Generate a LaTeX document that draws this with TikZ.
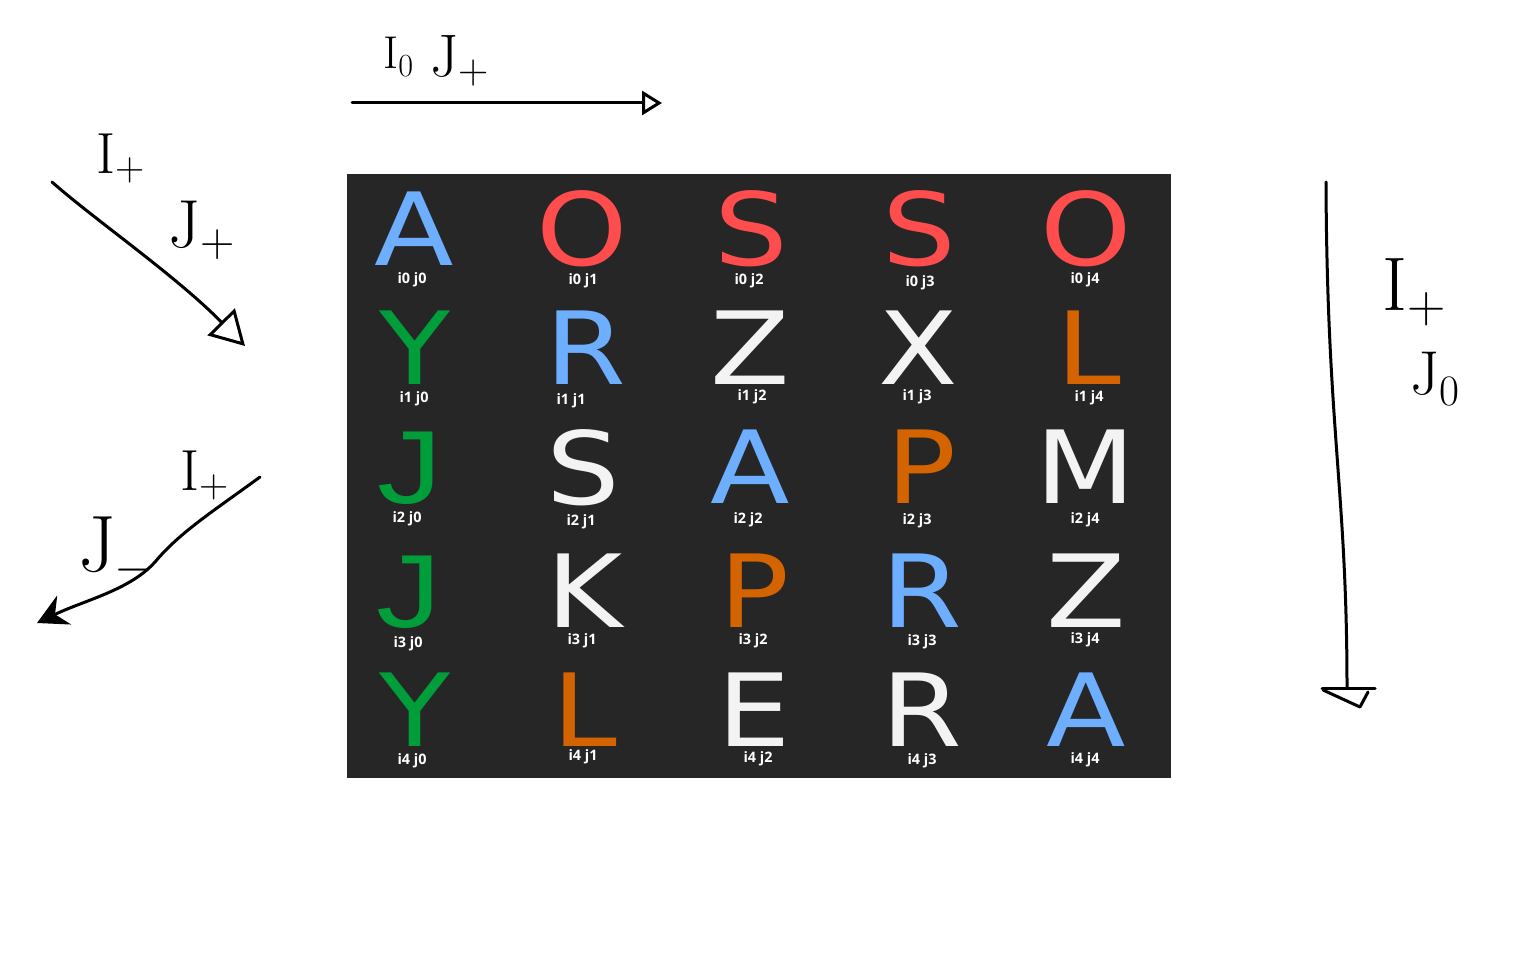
\documentclass[tikz,border=0pt]{standalone}
\usepackage{fontspec}
\usetikzlibrary{arrows.meta}
\newfontfamily\bigletterfont{DejaVu Sans}[FakeStretch=1.15]
\newfontfamily\bigjfont{Liberation Sans}[FakeStretch=1.25]
\newfontfamily\celllabelfont{Open Sans}[BoldFont={Open Sans Bold}]
\definecolor{bgdark}{HTML}{262626}
\definecolor{lblue}{HTML}{6DAEFF}
\definecolor{lred}{HTML}{FF4D4D}
\definecolor{lwhite}{HTML}{F3F3F3}
\definecolor{lorange}{HTML}{D46400}
\definecolor{lgreen}{HTML}{009E3A}
\tikzset{
  bigletter/.style={anchor=base, inner sep=0pt, font=\bigletterfont\fontsize{50.5}{60}\selectfont},
  bigj/.style={anchor=base, inner sep=0pt, font=\bigjfont\fontsize{52}{60}\selectfont},
  celllabel/.style={anchor=base, inner sep=0pt, text=white, font=\celllabelfont\bfseries\fontsize{7.2}{8}\selectfont},
  hand/.style={line width=1.5pt, black, line cap=round, line join=round},
  handlabel/.style={anchor=base west, inner sep=0pt}
}
\begin{document}
\begin{tikzpicture}[x=0.5pt,y=-0.5pt]
\useasboundingbox[fill=white] (0,0) rectangle (1536,963);
\fill[bgdark] (347,174) rectangle (1171,778);
% row 0
\node[bigletter,text=lblue]   (l00) at (414,265) {A};
\node[bigletter,text=lred]    (l01) at (582,265) {O};
\node[bigletter,text=lred]    (l02) at (751,265) {S};
\node[bigletter,text=lred]    (l03) at (919,265) {S};
\node[bigletter,text=lred]    (l04) at (1086,265) {O};
% row 1
\node[bigletter,text=lgreen]  (l10) at (415,384) {Y};
\node[bigletter,text=lblue]   (l11) at (586,384) {R};
\node[bigletter,text=lwhite]  (l12) at (750,384) {Z};
\node[bigletter,text=lwhite]  (l13) at (918,384) {X};
\node[bigletter,text=lorange] (l14) at (1089,384) {L};
% row 2
\node[bigj,text=lgreen]       (l20) at (410,503) {J};
\node[bigletter,text=lwhite]  (l21) at (583,504) {S};
\node[bigletter,text=lblue]   (l22) at (750,503) {A};
\node[bigletter,text=lorange] (l23) at (922,503) {P};
\node[bigletter,text=lwhite]  (l24) at (1086,503) {M};
% row 3
\node[bigj,text=lgreen]       (l30) at (409,627) {J};
\node[bigletter,text=lwhite]  (l31) at (585,627) {K};
\node[bigletter,text=lorange] (l32) at (755,627) {P};
\node[bigletter,text=lblue]   (l33) at (922,627) {R};
\node[bigletter,text=lwhite]  (l34) at (1086,627) {Z};
% row 4
\node[bigletter,text=lgreen]  (l40) at (415,746) {Y};
\node[bigletter,text=lorange] (l41) at (585,746) {L};
\node[bigletter,text=lwhite]  (l42) at (754,746) {E};
\node[bigletter,text=lwhite]  (l43) at (922,746) {R};
\node[bigletter,text=lblue]   (l44) at (1086,746) {A};
% labels
\node[celllabel] (t00) at (412,283) {i0 j0};
\node[celllabel] (t01) at (583,284) {i0 j1};
\node[celllabel] (t02) at (749,284) {i0 j2};
\node[celllabel] (t03) at (920,286) {i0 j3};
\node[celllabel] (t04) at (1085,283) {i0 j4};
\node[celllabel] (t10) at (414,402) {i1 j0};
\node[celllabel] (t11) at (571,404) {i1 j1};
\node[celllabel] (t12) at (752,400) {i1 j2};
\node[celllabel] (t13) at (917,400) {i1 j3};
\node[celllabel] (t14) at (1089,401) {i1 j4};
\node[celllabel] (t20) at (407,522) {i2 j0};
\node[celllabel] (t21) at (581,525) {i2 j1};
\node[celllabel] (t22) at (748,523) {i2 j2};
\node[celllabel] (t23) at (917,524) {i2 j3};
\node[celllabel] (t24) at (1085,523) {i2 j4};
\node[celllabel] (t30) at (408,647) {i3 j0};
\node[celllabel] (t31) at (582,644) {i3 j1};
\node[celllabel] (t32) at (753,644) {i3 j2};
\node[celllabel] (t33) at (922,645) {i3 j3};
\node[celllabel] (t34) at (1085,643) {i3 j4};
\node[celllabel] (t40) at (412,764) {i4 j0};
\node[celllabel] (t41) at (583,760) {i4 j1};
\node[celllabel] (t42) at (758,762) {i4 j2};
\node[celllabel] (t43) at (922,764) {i4 j3};
\node[celllabel] (t44) at (1085,763) {i4 j4};
% hand-drawn labels
\node[handlabel,font=\fontsize{23}{26}\selectfont] (hI0) at (383,69) {I\textsubscript{0}};
\node[handlabel,font=\fontsize{30}{34}\selectfont] (hJp) at (430,76) {J\textsubscript{+}};
\node[handlabel,font=\fontsize{29}{32}\selectfont] (aIp) at (96,173) {I\textsubscript{+}};
\node[handlabel,font=\fontsize{34}{38}\selectfont] (aJp) at (168,247) {J\textsubscript{+}};
\node[handlabel,font=\fontsize{29}{32}\selectfont] (bIp) at (180,490) {I\textsubscript{+}};
\node[handlabel,font=\fontsize{40}{44}\selectfont] (bJm) at (78,571) {J\kern-1pt\textsubscript{$-$}};
\node[handlabel,font=\fontsize{38}{42}\selectfont] (cIp) at (1382,310) {I\textsubscript{+}};
\node[handlabel,font=\fontsize{31}{34}\selectfont] (cJ0) at (1410,394) {J\textsubscript{0}};
% hand-drawn arrows
\coordinate (topS) at (352,103);
\coordinate (topE) at (662,103);
\draw[hand,-{Triangle[open,length=10pt,width=12pt,line width=1.5pt]}] (topS) -- (topE);
\coordinate (tlS) at (52,182);
\coordinate (tlE) at (245,346);
\draw[hand,-{Triangle[open,length=17pt,width=19pt,line width=1.5pt]}] (tlS) .. controls (95,220) and (175,275) .. (tlE);
\coordinate (blS) at (260,477);
\coordinate (blM) at (155,562);
\coordinate (blE) at (37,623);
\draw[hand,-{Stealth[length=15pt,width=16pt,inset=5pt]}] (blS) .. controls (215,510) and (180,532) .. (blM) .. controls (130,590) and (85,600) .. (blE);
\coordinate (rS) at (1326,182);
\coordinate (rE) at (1347,688);
\draw[hand] (rS) .. controls (1327,430) and (1347,490) .. (rE);
\draw[hand] (1322,688) -- (1375,688);
\draw[hand] (1323,690) -- (1360,707) -- (1368,692);
\end{tikzpicture}
\end{document}
